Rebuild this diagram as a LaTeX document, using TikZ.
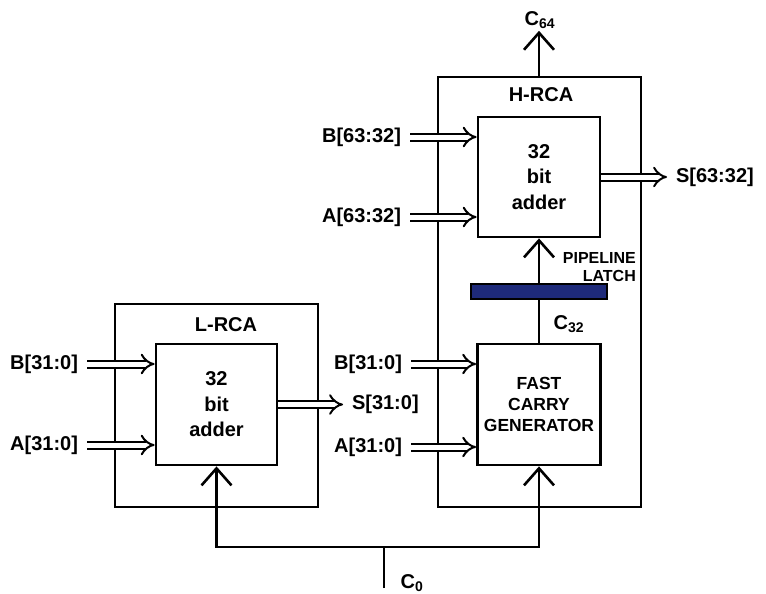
\documentclass[tikz,border=0pt]{standalone}
\usepackage{fontspec}
\setmainfont{Liberation Sans}
\usepackage{tikz}
\usetikzlibrary{arrows.meta, positioning}
\definecolor{latchblue}{RGB}{30, 42, 122}

\begin{document}
\begin{tikzpicture}[
    x=1pt, y=-1pt,
    blk/.style={rectangle, draw, line width=2.8pt, align=center, inner sep=0pt},
    txt/.style={font=\fontsize{20}{25.5}\selectfont\bfseries},
    small/.style={font=\fontsize{17.5}{21}\selectfont\bfseries},
    tiny/.style={font=\fontsize{16}{18}\selectfont\bfseries},
    pin/.style={txt, inner sep=0pt, outer sep=9pt},
    bus/.style={line width=2pt, double, double distance=5pt, -{Implies}},
    ctl/.style={line width=2.6pt, -{Straight Barb[length=17pt, width=30pt, line width=2.6pt]}},
    wire/.style={line width=2.6pt}
]
    \useasboundingbox (0,0) rectangle (766,594);

    % Outer blocks
    \node[blk, minimum width=203pt, minimum height=203pt] (lrca) at (216.5,405.5) {};
    \node[blk, minimum width=203pt, minimum height=430pt] (hrca) at (539.5,292) {};
    \node[txt] at (226,325) {L-RCA};
    \node[txt] at (541,95) {H-RCA};

    % Inner blocks
    \node[blk, txt, minimum width=121pt, minimum height=121pt] (ladd) at (216.5,404.5) {32\\bit\\adder};
    \node[blk, txt, minimum width=122pt, minimum height=120pt] (hadd) at (539,177) {32\\bit\\adder};
    \node[blk, small, minimum width=123pt, minimum height=121pt] (fcg) at (539,404.5) {FAST\\CARRY\\GENERATOR};
    \node[rectangle, draw=black, fill=latchblue, line width=1.8pt, minimum width=136pt, minimum height=15pt, inner sep=0pt] (latch) at (539,291.5) {};

    % Input and output labels
    \node[pin, anchor=east] (lb) at (87,364) {B[31:0]};
    \node[pin, anchor=east] (la) at (87,445) {A[31:0]};
    \node[pin, anchor=east] (rb) at (411,364) {B[31:0]};
    \node[pin, anchor=east] (ra) at (411,447) {A[31:0]};
    \node[pin, anchor=east] (hb) at (410,137) {B[63:32]};
    \node[pin, anchor=east] (ha) at (410,217) {A[63:32]};
    \node[pin, anchor=west] (ls) at (343,404.5) {S[31:0]};
    \node[pin, anchor=west] (hs) at (667,177) {S[63:32]};

    % Carry labels
    \node[txt, inner sep=2pt] (c64) at (540,20) {C\textsubscript{64}};
    \node[txt] (c32) at (569,324) {C\textsubscript{32}};
    \node[txt] (c0) at (412,583) {C\textsubscript{0}};
    \node[tiny, align=right, anchor=east, inner sep=0pt] (plabel) at (636,267) {PIPELINE\\LATCH};
    \coordinate (c0in) at (384,588);
    \coordinate (split) at (384,547);

    % Buses
    \draw[bus] (lb.east) -- (lb.east -| ladd.west);
    \draw[bus] (la.east) -- (la.east -| ladd.west);
    \draw[bus] (rb.east) -- (rb.east -| fcg.west);
    \draw[bus] (ra.east) -- (ra.east -| fcg.west);
    \draw[bus] (hb.east) -- (hb.east -| hadd.west);
    \draw[bus] (ha.east) -- (ha.east -| hadd.west);
    \draw[bus] (ladd.east) -- (ladd.east -| ls.west);
    \draw[bus] (hadd.east) -- (hadd.east -| hs.west);

    % Carry wires
    \draw[wire] (c0in) -- (split);
    \draw[ctl] (split) -| (ladd.south);
    \draw[ctl] (split) -| (fcg.south);
    \draw[wire] (fcg.north) -- (latch.south);
    \draw[ctl] (latch.north) -- (hadd.south);
    \draw[ctl] (hrca.north -| hadd.north) -- (hadd.north |- c64.south);
\end{tikzpicture}
\end{document}
